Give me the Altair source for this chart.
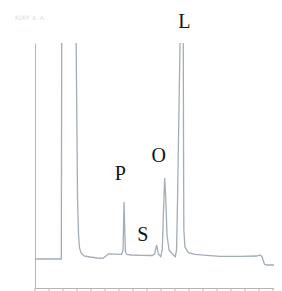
import altair as alt
import pandas as pd

# retention time (min) and detector signal (arbitrary units)
rt = [0, 1.88, 1.91, 2.91, 2.94, 3.04, 3.11, 3.18, 3.29, 3.5, 3.93, 4.43, 4.86, 5.07, 5.25,
      5.71, 6.18, 6.29, 6.36, 6.41, 6.46, 6.57, 6.86, 7.5, 8.36, 8.54, 8.69, 8.81, 8.98,
      9.09, 9.18, 9.26, 9.33, 9.43, 9.57, 9.88, 10.02, 10.11, 10.18, 10.27, 10.36, 10.38,
      10.57, 10.59, 10.61, 10.63, 10.71, 10.95, 11.43, 12.26, 13.21, 14.64, 15.84, 16.07,
      16.21, 16.31, 16.39, 16.57, 17.07]
signal = [29, 29, 258, 258, 245, 88, 53, 40, 35, 32, 31, 30, 29.7, 32, 34,
          33.8, 33.7, 38, 86, 58, 36, 33.5, 33, 32.7, 32.5, 34, 43, 34, 31.3,
          38, 78, 110, 93, 53, 38, 33, 31.3, 38, 88, 168, 245, 258,
          258, 245, 138, 58, 41, 35.3, 33.7, 32.7, 31.7, 31.7, 32, 33,
          31.5, 27, 23.7, 23, 23]

peak_names = ["P", "S", "O", "L"]
peak_rt = [6.1, 7.7, 8.84, 10.66]
peak_lab_y = [114.5, 53, 132.3, 266.5]

tick_values = list(range(0, 18))

trace = pd.DataFrame({"rt": rt, "signal": signal, "order": list(range(len(rt)))})
labels = pd.DataFrame({"name": peak_names, "rt": peak_rt, "y": peak_lab_y})
ticks = pd.DataFrame({"rt": tick_values})
header = pd.DataFrame({"txt": ["K0EF X. A"], "rt": [-1.43], "y": [270]})

xs = alt.Scale(domain=[0, 17.07], nice=False, zero=False)
ys = alt.Scale(domain=[0, 245], nice=False, zero=False)

line = alt.Chart(trace).mark_line(color="#a3adb8", strokeWidth=1.3, clip=True).encode(
    x=alt.X("rt:Q", scale=xs, axis=alt.Axis(labels=False, ticks=False, title=None,
                                             grid=False, domainColor="#b5b5b5", domainWidth=1)),
    y=alt.Y("signal:Q", scale=ys, axis=alt.Axis(labels=False, ticks=False, title=None, grid=False,
                                                 domainColor="#b5b5b5", domainWidth=1)),
    order="order:Q",
)

tick_rules = alt.Chart(ticks).transform_filter("datum.rt <= 17.07").mark_rule(
    color="#b5b5b5", strokeWidth=1).encode(
    x=alt.X("rt:Q", scale=xs), y=alt.value(245), y2=alt.value(252)
)

text = alt.Chart(labels).mark_text(font="Liberation Serif", fontSize=20, color="#111111",
                                   align="center", baseline="middle").encode(
    x=alt.X("rt:Q", scale=xs), y=alt.Y("y:Q", scale=ys), text="name:N"
)

head = alt.Chart(header).mark_text(font="DejaVu Sans", fontSize=6, color="#dddddd",
                                   align="left", baseline="middle").encode(
    x=alt.X("rt:Q", scale=xs), y=alt.Y("y:Q", scale=ys), text="txt:N"
)

chart = (line + tick_rules + text + head).properties(
    width=239, height=245,
    autosize=alt.AutoSizeParams(type="none"),
    padding={"left": 27, "top": 35, "right": 0, "bottom": 8},
).configure_view(strokeWidth=0)

chart.save("out.html", embed_options={"renderer": "svg", "actions": False})
